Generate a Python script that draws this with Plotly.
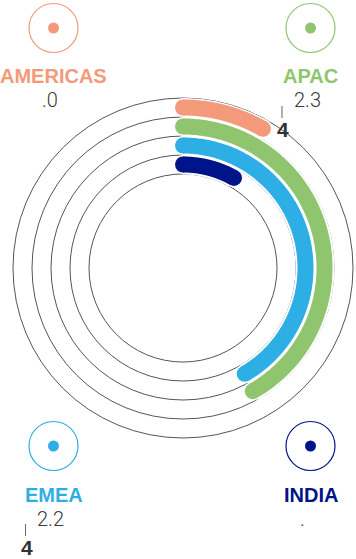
import numpy as np
import plotly.graph_objects as go

# ---- data ----
regions = ["AMERICAS", "APAC", "EMEA", "INDIA"]
value_labels = [".0", "2.3", "2.2", "."]
arc_share_pct = [8.3, 41.8, 41.6, 8.2]          # share of a full turn
colors = ["#F39A7B", "#8FC56E", "#2DAFE6", "#00148A"]

W, H = 356, 559
CX, CY, R_OUT = 183, 268, 170        # circle centre / outer radius (px)
TRACK = 19                           # track width in px
ring_edges = [R_OUT - i * TRACK for i in range(5)]   # 170,151,132,113,94
ring_mid = [ring_edges[i] - TRACK / 2 for i in range(4)]

fig = go.Figure()

# white backing for each arc
for i, pct in enumerate(arc_share_pct):
    end = pct / 100 * 360
    th = np.linspace(0, end, 200)
    fig.add_trace(go.Scatterpolar(r=[ring_mid[i]] * len(th), theta=th, mode="lines",
                                  line=dict(color="white", width=20), hoverinfo="skip",
                                  showlegend=False, subplot="polar"))
    fig.add_trace(go.Scatterpolar(r=[ring_mid[i]] * 2, theta=[0, end], mode="markers",
                                  marker=dict(color="white", size=19), hoverinfo="skip",
                                  showlegend=False, subplot="polar"))
# coloured arcs with round caps
for i, pct in enumerate(arc_share_pct):
    end = pct / 100 * 360
    th = np.linspace(0, end, 200)
    fig.add_trace(go.Scatterpolar(r=[ring_mid[i]] * len(th), theta=th, mode="lines",
                                  line=dict(color=colors[i], width=16), name=regions[i],
                                  showlegend=False, subplot="polar"))
    fig.add_trace(go.Scatterpolar(r=[ring_mid[i]] * 2, theta=[0, end], mode="markers",
                                  marker=dict(color=colors[i], size=16), hoverinfo="skip",
                                  showlegend=False, subplot="polar"))

# legend icons (pixel coordinate overlay)
icon_x = [53.5, 310.5, 53.5, 310.5]
icon_y = [28, 28, 446, 446]
label_y = [76, 76, 495, 495]
value_y = [100, 100, 519, 519]
fig.add_trace(go.Scatter(x=icon_x, y=icon_y, mode="markers", xaxis="x", yaxis="y",
                         marker=dict(symbol="circle-open", size=49, color=colors,
                                     line=dict(width=1.2, color=colors)),
                         hoverinfo="skip", showlegend=False))
fig.add_trace(go.Scatter(x=icon_x, y=icon_y, mode="markers", xaxis="x", yaxis="y",
                         marker=dict(symbol="circle", size=11, color=colors),
                         hoverinfo="skip", showlegend=False))

annotations = []
for i in range(4):
    annotations.append(dict(x=icon_x[i], y=label_y[i], xref="x", yref="y", text=regions[i],
                            showarrow=False, xanchor="center", yanchor="middle",
                            font=dict(family="Liberation Sans", size=20, color=colors[i], weight=700)))
    vx = icon_x[i] - 3.5 if value_labels[i] != "." else 302
    annotations.append(dict(x=vx, y=value_y[i], xref="x", yref="y", text=value_labels[i],
                            showarrow=False, xanchor="center", yanchor="middle",
                            font=dict(family="Roboto", size=20, color="#3a3a3a", weight=300)))

# stray glyphs seen in the reference (a "4" with a thin stem above it)
shapes = []
for gx, gy in [(283, 129), (26.5, 547)]:
    annotations.append(dict(x=gx, y=gy, xref="x", yref="y", text="4", showarrow=False,
                            xanchor="center", yanchor="middle",
                            font=dict(family="Liberation Sans", size=21, color="#333", weight=700)))
    shapes.append(dict(type="line", xref="x", yref="y", x0=gx - 1, x1=gx - 1,
                       y0=gy - 23, y1=gy - 11, line=dict(color="#666", width=1)))

fig.update_layout(
    width=W, height=H, margin=dict(l=0, r=0, t=0, b=0),
    paper_bgcolor="white", plot_bgcolor="white",
    polar=dict(
        domain=dict(x=[(CX - R_OUT) / W, (CX + R_OUT) / W],
                    y=[(H - CY - R_OUT) / H, (H - CY + R_OUT) / H]),
        bgcolor="rgba(0,0,0,0)",
        radialaxis=dict(range=[0, R_OUT], tickvals=ring_edges[1:], showticklabels=False,
                        ticks="", showline=False, gridcolor="#555", gridwidth=1,
                        layer="below traces"),
        angularaxis=dict(rotation=90, direction="clockwise", showgrid=False,
                         showticklabels=False, ticks="", showline=True,
                         linecolor="#555", linewidth=1, layer="below traces"),
    ),
    xaxis=dict(range=[0, W], domain=[0, 1], visible=False, fixedrange=True),
    yaxis=dict(range=[H, 0], domain=[0, 1], visible=False, fixedrange=True),
    annotations=annotations,
    shapes=shapes,
    showlegend=False,
)

fig.write_html("out.html", config={"displayModeBar": False},
               post_script="document.body.style.margin='0';document.body.style.overflow='hidden';")
